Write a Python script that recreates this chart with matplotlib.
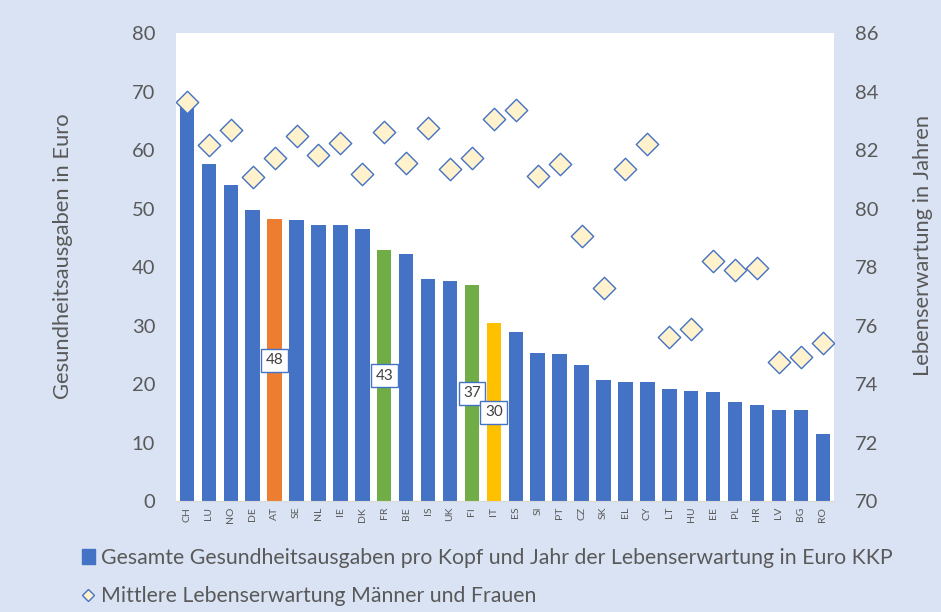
import numpy as np
import matplotlib.pyplot as plt
from matplotlib.patches import Patch
from matplotlib.lines import Line2D

plt.rcParams['font.family'] = ['Lato', 'DejaVu Sans']

# country codes, health spending per life-year (Euro KKP) and life expectancy
countries = ["CH", "LU", "NO", "DE", "AT", "SE", "NL", "IE", "DK", "FR",
             "BE", "IS", "UK", "FI", "IT", "ES", "SI", "PT", "CZ", "SK",
             "EL", "CY", "LT", "HU", "EE", "PL", "HR", "LV", "BG", "RO"]
spending = [68.0, 57.7, 54.1, 49.8, 48.2, 48.0, 47.2, 47.2, 46.5, 42.9,
            42.2, 37.9, 37.6, 36.9, 30.4, 28.9, 25.3, 25.1, 23.3, 20.7,
            20.3, 20.3, 19.2, 18.9, 18.7, 16.9, 16.4, 15.6, 15.6, 11.5]
life_exp = [83.65, 82.19, 82.68, 81.08, 81.74, 82.49, 81.83, 82.23, 81.17, 82.62,
            81.57, 82.75, 81.34, 81.74, 83.05, 83.38, 81.13, 81.53, 79.06, 77.29,
            81.36, 82.22, 75.61, 75.90, 78.22, 77.89, 77.98, 74.76, 74.92, 75.41]
highlight = {"AT": "#ED7D31", "FR": "#70AD47", "FI": "#70AD47", "IT": "#FFC000"}
labelled = ["AT", "FR", "FI", "IT"]

BLUE = "#4472C4"
GREY = "#595959"
BG = "#DAE3F3"

fig = plt.figure(figsize=(9.41, 6.12), dpi=100, facecolor=BG)
ax = fig.add_axes([0.187, 0.181, 0.699, 0.765])
ax.set_facecolor("white")

x = np.arange(len(countries))
colors = [highlight.get(c, BLUE) for c in countries]
ax.bar(x, spending, width=0.66, color=colors, zorder=2)

for i, c in enumerate(countries):
    if c in labelled:
        v = spending[i]
        ax.text(i, v / 2, f"{v:.0f}", ha="center", va="center", fontsize=11,
                color="#404040", zorder=5,
                bbox=dict(boxstyle="square,pad=0.3", fc="white", ec=BLUE, lw=1))

ax.set_xlim(-0.5, len(countries) - 0.5)
ax.set_ylim(0, 80)
ax.set_yticks(range(0, 81, 10))
ax.set_xticks(x)
ax.set_xticklabels(countries, rotation=90, fontsize=7.5, color=GREY)
ax.tick_params(axis="both", length=0, colors=GREY)
ax.tick_params(axis="y", labelsize=14.5, pad=15)
ax.tick_params(axis="x", pad=4)
ax.set_ylabel("Gesundheitsausgaben in Euro", fontsize=15.8, color=GREY,
              labelpad=42, y=0.523)
for s in ["top", "left", "right"]:
    ax.spines[s].set_visible(False)
ax.spines["bottom"].set_color("#D9D9D9")

ax2 = ax.twinx()
ax2.scatter(x, life_exp, marker="D", s=130, facecolor="#FFF2CC",
            edgecolor=BLUE, linewidth=1, zorder=4)
ax2.set_ylim(70, 86)
ax2.set_yticks(range(70, 87, 2))
ax2.tick_params(axis="y", length=0, colors=GREY, labelsize=14.5, pad=15)
ax2.set_ylabel("Lebenserwartung in Jahren", fontsize=15.8, color=GREY,
               rotation=90, labelpad=25, y=0.547)
for s in ["top", "left", "right", "bottom"]:
    ax2.spines[s].set_visible(False)

handles = [Patch(facecolor=BLUE, edgecolor=BLUE),
           Line2D([], [], marker="D", linestyle="none", markersize=6,
                  markerfacecolor="#FFF2CC", markeredgecolor=BLUE)]
labels = ["Gesamte Gesundheitsausgaben pro Kopf und Jahr der Lebenserwartung in Euro KKP",
          "Mittlere Lebenserwartung Männer und Frauen"]
leg = fig.legend(handles, labels, loc="upper left", bbox_to_anchor=(0.078, 0.119),
                 frameon=False, fontsize=15.3, handlelength=0.6, handletextpad=0.3,
                 labelspacing=0.86, borderaxespad=0)
for t in leg.get_texts():
    t.set_color(GREY)

fig.savefig("out.png", dpi=100, facecolor=BG)
